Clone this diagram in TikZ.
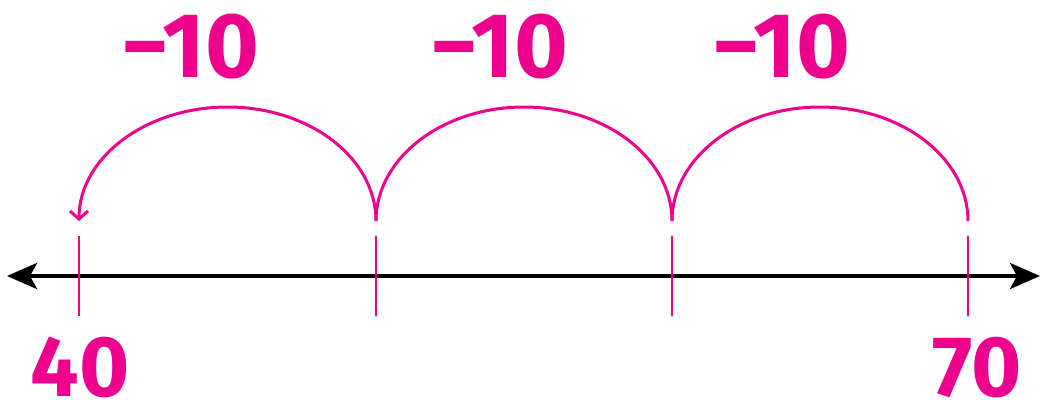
\documentclass[tikz,border=0pt]{standalone}
\usepackage{fontspec}
\setmainfont{Fira Sans}
\usetikzlibrary{arrows.meta,positioning}
\definecolor{jumppink}{RGB}{236, 0, 140}

\begin{document}
\begin{tikzpicture}[x=1pt, y=-1pt,
    numline/.style={line width=4pt, {Stealth[length=30pt,width=26pt,inset=7pt]}-{Stealth[length=30pt,width=26pt,inset=7pt]}},
    tickmark/.style={draw=jumppink, line width=2pt},
    hop/.style={draw=jumppink, line width=3pt},
    jumplabel/.style={text=jumppink, font=\fontsize{92}{92}\selectfont\bfseries, anchor=base, inner sep=0pt},
    endlabel/.style={text=jumppink, font=\fontsize{86}{86}\selectfont\bfseries, anchor=base, inner sep=0pt}]
    \useasboundingbox (0,0) rectangle (1044,399);

    % number line
    \coordinate (L) at (7,276);
    \coordinate (R) at (1040,276);
    \draw[numline] (L) -- (R);

    % tick marks
    \coordinate (t40) at (79,236);  \coordinate (b40) at (79,316);
    \coordinate (t50) at (376,236); \coordinate (b50) at (376,316);
    \coordinate (t60) at (672,236); \coordinate (b60) at (672,316);
    \coordinate (t70) at (968,236); \coordinate (b70) at (968,316);
    \draw[tickmark] (t40) -- (b40);
    \draw[tickmark] (t50) -- (b50);
    \draw[tickmark] (t60) -- (b60);
    \draw[tickmark] (t70) -- (b70);

    % jumps back by ten
    \coordinate (h70) at (968,221);
    \coordinate (h60) at (672,221);
    \coordinate (h50) at (376,221);
    \draw[hop] (h70) arc[start angle=0, end angle=-180, x radius=148, y radius=114];
    \draw[hop] (h60) arc[start angle=0, end angle=-180, x radius=148, y radius=114];
    \draw[hop, -{Straight Barb[length=8pt,width=18pt]}] (h50) arc[start angle=0, end angle=-180, x radius=148.5, y radius=114];

    \node[jumplabel] (j1) at (190,77) {−10};
    \node[jumplabel] (j2) at (499,77) {−10};
    \node[jumplabel] (j3) at (781,77) {−10};

    \node[endlabel] (n40) at (80,396) {40};
    \node[endlabel] (n70) at (977,396) {70};
\end{tikzpicture}
\end{document}
